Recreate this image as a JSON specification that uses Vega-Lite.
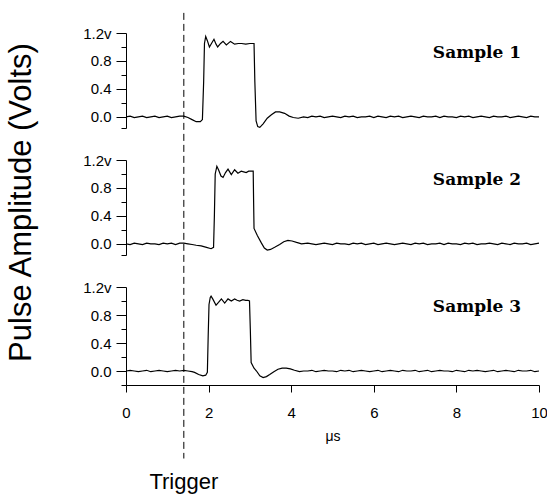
{
  "$schema": "https://vega.github.io/schema/vega-lite/v6.json",
  "background": "white",
  "padding": {"left": 5, "top": 12, "right": 0, "bottom": 5},
  "config": {
    "view": {"stroke": null},
    "axis": {"domainColor": "black", "tickColor": "black", "labelColor": "black", "titleColor": "black", "labelFont": "Liberation Sans", "titleFont": "Liberation Sans", "grid": false, "titleFontWeight": "normal", "domainWidth": 1, "tickWidth": 1}
  },
  "datasets": {
    "labels": [{"s": 1, "name": "Sample 1"}, {"s": 2, "name": "Sample 2"}, {"s": 3, "name": "Sample 3"}],
    "trig": [{"name": "Trigger", "t": 1.4}],
    "w": [
      {"s":1,"t":0.0,"v":0.0},{"s":1,"t":0.1,"v":0.01},{"s":1,"t":0.2,"v":-0.01},{"s":1,"t":0.3,"v":0.0},{"s":1,"t":0.4,"v":0.01},{"s":1,"t":0.5,"v":-0.01},{"s":1,"t":0.6,"v":0.0},{"s":1,"t":0.7,"v":0.01},{"s":1,"t":0.8,"v":-0.01},{"s":1,"t":0.9,"v":0.0},{"s":1,"t":1.0,"v":0.01},{"s":1,"t":1.1,"v":-0.01},{"s":1,"t":1.2,"v":0.0},{"s":1,"t":1.3,"v":0.01},{"s":1,"t":1.4,"v":0.01},{"s":1,"t":1.5,"v":-0.01},{"s":1,"t":1.6,"v":-0.04},{"s":1,"t":1.7,"v":-0.07},{"s":1,"t":1.8,"v":-0.07},{"s":1,"t":1.85,"v":-0.04},{"s":1,"t":1.88,"v":0.5},{"s":1,"t":1.9,"v":1.05},{"s":1,"t":1.93,"v":1.15},{"s":1,"t":1.97,"v":1.09},{"s":1,"t":2.02,"v":1.0},{"s":1,"t":2.08,"v":1.06},{"s":1,"t":2.13,"v":1.11},{"s":1,"t":2.18,"v":1.04},{"s":1,"t":2.22,"v":1.0},{"s":1,"t":2.29,"v":1.05},{"s":1,"t":2.35,"v":1.08},{"s":1,"t":2.43,"v":1.03},{"s":1,"t":2.53,"v":1.08},{"s":1,"t":2.63,"v":1.04},{"s":1,"t":2.72,"v":1.05},{"s":1,"t":2.8,"v":1.05},{"s":1,"t":2.9,"v":1.04},{"s":1,"t":3.0,"v":1.05},{"s":1,"t":3.1,"v":1.05},{"s":1,"t":3.12,"v":0.5},{"s":1,"t":3.15,"v":-0.06},{"s":1,"t":3.19,"v":-0.14},{"s":1,"t":3.24,"v":-0.15},{"s":1,"t":3.32,"v":-0.1},{"s":1,"t":3.42,"v":-0.02},{"s":1,"t":3.52,"v":0.03},{"s":1,"t":3.62,"v":0.07},{"s":1,"t":3.72,"v":0.07},{"s":1,"t":3.84,"v":0.05},{"s":1,"t":3.95,"v":0.01},{"s":1,"t":4.05,"v":-0.01},{"s":1,"t":4.17,"v":-0.02},{"s":1,"t":4.3,"v":0.0},
      {"s":1,"t":4.4,"v":-0.01},{"s":1,"t":4.5,"v":0.01},{"s":1,"t":4.6,"v":0.0},{"s":1,"t":4.7,"v":0.01},{"s":1,"t":4.8,"v":-0.01},{"s":1,"t":4.9,"v":0.0},{"s":1,"t":5.0,"v":0.01},{"s":1,"t":5.1,"v":0.0},{"s":1,"t":5.2,"v":-0.01},{"s":1,"t":5.3,"v":0.01},{"s":1,"t":5.4,"v":0.0},{"s":1,"t":5.5,"v":0.01},{"s":1,"t":5.6,"v":-0.01},{"s":1,"t":5.7,"v":0.0},{"s":1,"t":5.8,"v":0.0},{"s":1,"t":5.9,"v":0.01},{"s":1,"t":6.0,"v":-0.01},{"s":1,"t":6.1,"v":0.01},{"s":1,"t":6.2,"v":0.0},{"s":1,"t":6.3,"v":-0.01},{"s":1,"t":6.4,"v":0.01},{"s":1,"t":6.5,"v":0.0},{"s":1,"t":6.6,"v":0.01},{"s":1,"t":6.7,"v":-0.01},{"s":1,"t":6.8,"v":0.0},{"s":1,"t":6.9,"v":0.01},{"s":1,"t":7.0,"v":0.0},{"s":1,"t":7.1,"v":-0.01},{"s":1,"t":7.2,"v":0.01},{"s":1,"t":7.3,"v":0.0},{"s":1,"t":7.4,"v":0.0},{"s":1,"t":7.5,"v":0.01},{"s":1,"t":7.6,"v":-0.01},{"s":1,"t":7.7,"v":0.01},{"s":1,"t":7.8,"v":0.0},{"s":1,"t":7.9,"v":0.0},{"s":1,"t":8.0,"v":-0.01},{"s":1,"t":8.1,"v":0.01},{"s":1,"t":8.2,"v":0.0},{"s":1,"t":8.3,"v":0.01},{"s":1,"t":8.4,"v":-0.01},{"s":1,"t":8.5,"v":0.0},{"s":1,"t":8.6,"v":0.01},{"s":1,"t":8.7,"v":0.0},{"s":1,"t":8.8,"v":-0.01},{"s":1,"t":8.9,"v":0.01},{"s":1,"t":9.0,"v":0.0},{"s":1,"t":9.1,"v":0.0},{"s":1,"t":9.2,"v":0.01},{"s":1,"t":9.3,"v":-0.01},{"s":1,"t":9.4,"v":0.0},{"s":1,"t":9.5,"v":0.01},{"s":1,"t":9.6,"v":0.0},{"s":1,"t":9.7,"v":-0.01},{"s":1,"t":9.8,"v":0.01},{"s":1,"t":9.9,"v":0.0},{"s":1,"t":10.0,"v":0.0},
      {"s":2,"t":0.0,"v":0.0},{"s":2,"t":0.1,"v":-0.01},{"s":2,"t":0.2,"v":0.01},{"s":2,"t":0.3,"v":0.0},{"s":2,"t":0.4,"v":-0.01},{"s":2,"t":0.5,"v":0.01},{"s":2,"t":0.6,"v":0.0},{"s":2,"t":0.7,"v":0.0},{"s":2,"t":0.8,"v":-0.01},{"s":2,"t":0.9,"v":0.01},{"s":2,"t":1.0,"v":0.0},{"s":2,"t":1.1,"v":0.01},{"s":2,"t":1.2,"v":-0.01},{"s":2,"t":1.3,"v":0.01},{"s":2,"t":1.4,"v":0.01},{"s":2,"t":1.5,"v":0.0},{"s":2,"t":1.6,"v":-0.01},{"s":2,"t":1.7,"v":-0.02},{"s":2,"t":1.82,"v":-0.03},{"s":2,"t":1.95,"v":-0.05},{"s":2,"t":2.06,"v":-0.07},{"s":2,"t":2.12,"v":-0.05},{"s":2,"t":2.14,"v":0.4},{"s":2,"t":2.16,"v":1.0},{"s":2,"t":2.2,"v":1.11},{"s":2,"t":2.24,"v":1.06},{"s":2,"t":2.3,"v":0.97},{"s":2,"t":2.35,"v":0.95},{"s":2,"t":2.41,"v":1.02},{"s":2,"t":2.47,"v":1.07},{"s":2,"t":2.55,"v":0.99},{"s":2,"t":2.63,"v":1.06},{"s":2,"t":2.71,"v":1.01},{"s":2,"t":2.79,"v":1.04},{"s":2,"t":2.85,"v":1.03},{"s":2,"t":2.91,"v":1.02},{"s":2,"t":2.97,"v":1.04},{"s":2,"t":3.03,"v":1.04},{"s":2,"t":3.08,"v":1.04},{"s":2,"t":3.09,"v":0.6},{"s":2,"t":3.1,"v":0.22},{"s":2,"t":3.18,"v":0.12},{"s":2,"t":3.28,"v":0.01},{"s":2,"t":3.35,"v":-0.06},{"s":2,"t":3.42,"v":-0.09},{"s":2,"t":3.5,"v":-0.08},{"s":2,"t":3.6,"v":-0.05},{"s":2,"t":3.72,"v":-0.01},{"s":2,"t":3.82,"v":0.03},{"s":2,"t":3.92,"v":0.05},{"s":2,"t":4.02,"v":0.04},{"s":2,"t":4.13,"v":0.02},{"s":2,"t":4.25,"v":0.0},
      {"s":2,"t":4.4,"v":0.01},{"s":2,"t":4.5,"v":0.0},{"s":2,"t":4.6,"v":-0.01},{"s":2,"t":4.7,"v":0.0},{"s":2,"t":4.8,"v":0.01},{"s":2,"t":4.9,"v":0.0},{"s":2,"t":5.0,"v":-0.01},{"s":2,"t":5.1,"v":0.01},{"s":2,"t":5.2,"v":0.0},{"s":2,"t":5.3,"v":0.0},{"s":2,"t":5.4,"v":-0.01},{"s":2,"t":5.5,"v":0.01},{"s":2,"t":5.6,"v":0.0},{"s":2,"t":5.7,"v":0.01},{"s":2,"t":5.8,"v":-0.01},{"s":2,"t":5.9,"v":0.0},{"s":2,"t":6.0,"v":0.01},{"s":2,"t":6.1,"v":-0.01},{"s":2,"t":6.2,"v":0.0},{"s":2,"t":6.3,"v":0.01},{"s":2,"t":6.4,"v":0.0},{"s":2,"t":6.5,"v":-0.01},{"s":2,"t":6.6,"v":0.0},{"s":2,"t":6.7,"v":0.01},{"s":2,"t":6.8,"v":0.0},{"s":2,"t":6.9,"v":-0.01},{"s":2,"t":7.0,"v":0.01},{"s":2,"t":7.1,"v":0.0},{"s":2,"t":7.2,"v":0.01},{"s":2,"t":7.3,"v":-0.01},{"s":2,"t":7.4,"v":0.0},{"s":2,"t":7.5,"v":0.0},{"s":2,"t":7.6,"v":0.01},{"s":2,"t":7.7,"v":-0.01},{"s":2,"t":7.8,"v":0.01},{"s":2,"t":7.9,"v":0.0},{"s":2,"t":8.0,"v":0.0},{"s":2,"t":8.1,"v":-0.01},{"s":2,"t":8.2,"v":0.01},{"s":2,"t":8.3,"v":0.0},{"s":2,"t":8.4,"v":0.01},{"s":2,"t":8.5,"v":-0.01},{"s":2,"t":8.6,"v":0.0},{"s":2,"t":8.7,"v":0.0},{"s":2,"t":8.8,"v":0.01},{"s":2,"t":8.9,"v":0.0},{"s":2,"t":9.0,"v":-0.01},{"s":2,"t":9.1,"v":0.01},{"s":2,"t":9.2,"v":0.0},{"s":2,"t":9.3,"v":-0.01},{"s":2,"t":9.4,"v":0.01},{"s":2,"t":9.5,"v":0.0},{"s":2,"t":9.6,"v":0.0},{"s":2,"t":9.7,"v":0.01},{"s":2,"t":9.8,"v":-0.01},{"s":2,"t":9.9,"v":0.0},{"s":2,"t":10.0,"v":0.01},
      {"s":3,"t":0.0,"v":0.0},{"s":3,"t":0.1,"v":0.01},{"s":3,"t":0.2,"v":0.0},{"s":3,"t":0.3,"v":-0.01},{"s":3,"t":0.4,"v":0.0},{"s":3,"t":0.5,"v":0.01},{"s":3,"t":0.6,"v":-0.01},{"s":3,"t":0.7,"v":0.0},{"s":3,"t":0.8,"v":0.01},{"s":3,"t":0.9,"v":0.0},{"s":3,"t":1.0,"v":-0.01},{"s":3,"t":1.1,"v":0.0},{"s":3,"t":1.2,"v":0.01},{"s":3,"t":1.3,"v":0.0},{"s":3,"t":1.4,"v":0.01},{"s":3,"t":1.5,"v":0.0},{"s":3,"t":1.6,"v":-0.01},{"s":3,"t":1.66,"v":-0.02},{"s":3,"t":1.76,"v":-0.05},{"s":3,"t":1.86,"v":-0.07},{"s":3,"t":1.93,"v":-0.06},{"s":3,"t":1.97,"v":-0.02},{"s":3,"t":1.99,"v":0.5},{"s":3,"t":2.01,"v":0.95},{"s":3,"t":2.04,"v":1.05},{"s":3,"t":2.06,"v":1.07},{"s":3,"t":2.1,"v":1.03},{"s":3,"t":2.18,"v":0.94},{"s":3,"t":2.24,"v":0.98},{"s":3,"t":2.31,"v":1.03},{"s":3,"t":2.39,"v":0.97},{"s":3,"t":2.47,"v":1.03},{"s":3,"t":2.55,"v":1.0},{"s":3,"t":2.63,"v":1.03},{"s":3,"t":2.69,"v":1.01},{"s":3,"t":2.75,"v":1.0},{"s":3,"t":2.83,"v":1.02},{"s":3,"t":2.9,"v":1.01},{"s":3,"t":2.95,"v":1.01},{"s":3,"t":2.99,"v":1.0},{"s":3,"t":3.01,"v":0.6},{"s":3,"t":3.03,"v":0.12},{"s":3,"t":3.1,"v":0.04},{"s":3,"t":3.16,"v":0.0},{"s":3,"t":3.24,"v":-0.07},{"s":3,"t":3.32,"v":-0.095},{"s":3,"t":3.4,"v":-0.08},{"s":3,"t":3.48,"v":-0.05},{"s":3,"t":3.58,"v":-0.01},{"s":3,"t":3.68,"v":0.025},{"s":3,"t":3.78,"v":0.04},{"s":3,"t":3.88,"v":0.04},{"s":3,"t":3.98,"v":0.03},{"s":3,"t":4.08,"v":0.01},{"s":3,"t":4.2,"v":-0.01},{"s":3,"t":4.3,"v":0.0},
      {"s":3,"t":4.4,"v":0.0},{"s":3,"t":4.5,"v":0.01},{"s":3,"t":4.6,"v":-0.01},{"s":3,"t":4.7,"v":0.0},{"s":3,"t":4.8,"v":0.01},{"s":3,"t":4.9,"v":0.0},{"s":3,"t":5.0,"v":0.0},{"s":3,"t":5.1,"v":-0.01},{"s":3,"t":5.2,"v":0.01},{"s":3,"t":5.3,"v":0.0},{"s":3,"t":5.4,"v":0.01},{"s":3,"t":5.5,"v":-0.01},{"s":3,"t":5.6,"v":0.0},{"s":3,"t":5.7,"v":0.01},{"s":3,"t":5.8,"v":0.0},{"s":3,"t":5.9,"v":-0.01},{"s":3,"t":6.0,"v":0.0},{"s":3,"t":6.1,"v":0.01},{"s":3,"t":6.2,"v":-0.01},{"s":3,"t":6.3,"v":0.0},{"s":3,"t":6.4,"v":0.01},{"s":3,"t":6.5,"v":0.0},{"s":3,"t":6.6,"v":-0.01},{"s":3,"t":6.7,"v":0.01},{"s":3,"t":6.8,"v":0.0},{"s":3,"t":6.9,"v":0.0},{"s":3,"t":7.0,"v":0.01},{"s":3,"t":7.1,"v":-0.01},{"s":3,"t":7.2,"v":0.0},{"s":3,"t":7.3,"v":0.01},{"s":3,"t":7.4,"v":-0.01},{"s":3,"t":7.5,"v":0.0},{"s":3,"t":7.6,"v":0.01},{"s":3,"t":7.7,"v":0.0},{"s":3,"t":7.8,"v":0.0},{"s":3,"t":7.9,"v":-0.01},{"s":3,"t":8.0,"v":0.01},{"s":3,"t":8.1,"v":0.0},{"s":3,"t":8.2,"v":-0.01},{"s":3,"t":8.3,"v":0.01},{"s":3,"t":8.4,"v":0.0},{"s":3,"t":8.5,"v":0.01},{"s":3,"t":8.6,"v":0.0},{"s":3,"t":8.7,"v":-0.01},{"s":3,"t":8.8,"v":0.0},{"s":3,"t":8.9,"v":0.01},{"s":3,"t":9.0,"v":-0.01},{"s":3,"t":9.1,"v":0.0},{"s":3,"t":9.2,"v":0.01},{"s":3,"t":9.3,"v":0.0},{"s":3,"t":9.4,"v":-0.01},{"s":3,"t":9.5,"v":0.01},{"s":3,"t":9.6,"v":0.0},{"s":3,"t":9.7,"v":0.0},{"s":3,"t":9.8,"v":0.01},{"s":3,"t":9.9,"v":-0.01},{"s":3,"t":10.0,"v":0.0}
    ]
  },
  "bounds": "flush",
  "spacing": 32,
  "vconcat": [
    {
      "width": 413, "height": 95,
      "layer": [
        {
          "data": {"name": "w"},
          "transform": [{"filter": "datum.s == 1"}],
          "mark": {"type": "line", "color": "black", "strokeWidth": 1.2},
          "encoding": {
            "x": {"field": "t", "type": "quantitative", "scale": {"domain": [0, 10], "nice": false}, "axis": null},
            "y": {"field": "v", "type": "quantitative", "scale": {"domain": [-0.16, 1.2], "nice": false, "zero": false},
                  "axis": {"orient": "left", "values": [0, 0.4, 0.8, 1.2], "labelExpr": "datum.value == 1.2 ? '1.2v' : format(datum.value, '.1f')", "tickSize": 10, "labelPadding": 5, "labelFontSize": 15, "title": null}}
          }
        },
        {
          "data": {"name": "labels"},
          "transform": [{"filter": "datum.s == 1"}],
          "mark": {"type": "text", "font": "DejaVu Serif", "fontWeight": "bold", "fontSize": 17, "align": "left", "baseline": "middle", "color": "black"},
          "encoding": {
            "x": {"datum": 7.43, "type": "quantitative"},
            "y": {"datum": 0.92, "type": "quantitative", "scale": {"domain": [-0.16, 1.2], "nice": false, "zero": false},
                  "axis": {"orient": "left", "values": [-0.16, 0.2, 0.6, 1.0], "labels": false, "domain": false, "tickSize": 5, "title": null}},
            "text": {"field": "name"}
          }
        }
      ],
      "resolve": {"axis": {"y": "independent"}}
    },
    {
      "width": 413, "height": 95,
      "layer": [
        {
          "data": {"name": "w"},
          "transform": [{"filter": "datum.s == 2"}],
          "mark": {"type": "line", "color": "black", "strokeWidth": 1.2},
          "encoding": {
            "x": {"field": "t", "type": "quantitative", "scale": {"domain": [0, 10], "nice": false}, "axis": null},
            "y": {"field": "v", "type": "quantitative", "scale": {"domain": [-0.16, 1.2], "nice": false, "zero": false},
                  "axis": {"orient": "left", "values": [0, 0.4, 0.8, 1.2], "labelExpr": "datum.value == 1.2 ? '1.2v' : format(datum.value, '.1f')", "tickSize": 10, "labelPadding": 5, "labelFontSize": 15, "title": "Pulse Amplitude (Volts)", "titleFontSize": 31, "titlePadding": 45, "titleY": 42}}
          }
        },
        {
          "data": {"name": "labels"},
          "transform": [{"filter": "datum.s == 2"}],
          "mark": {"type": "text", "font": "DejaVu Serif", "fontWeight": "bold", "fontSize": 17, "align": "left", "baseline": "middle", "color": "black"},
          "encoding": {
            "x": {"datum": 7.43, "type": "quantitative"},
            "y": {"datum": 0.92, "type": "quantitative", "scale": {"domain": [-0.16, 1.2], "nice": false, "zero": false},
                  "axis": {"orient": "left", "values": [-0.16, 0.2, 0.6, 1.0], "labels": false, "domain": false, "tickSize": 5, "title": null}},
            "text": {"field": "name"}
          }
        }
      ],
      "resolve": {"axis": {"y": "independent"}}
    },
    {
      "width": 413, "height": 98,
      "layer": [
        {
          "data": {"name": "w"},
          "transform": [{"filter": "datum.s == 3"}],
          "mark": {"type": "line", "color": "black", "strokeWidth": 1.2},
          "encoding": {
            "x": {"field": "t", "type": "quantitative", "scale": {"domain": [0, 10], "nice": false},
                  "axis": {"values": [0, 2, 4, 6, 8, 10], "tickSize": 7, "labelFontSize": 15, "labelPadding": 13, "labelFlush": false, "title": "μs", "titleFontSize": 14, "titlePadding": 9}},
            "y": {"field": "v", "type": "quantitative", "scale": {"domain": [-0.2, 1.2], "nice": false, "zero": false},
                  "axis": {"orient": "left", "values": [0, 0.4, 0.8, 1.2], "labelExpr": "datum.value == 1.2 ? '1.2v' : format(datum.value, '.1f')", "tickSize": 10, "labelPadding": 5, "labelFontSize": 15, "title": null}}
          }
        },
        {
          "data": {"name": "labels"},
          "transform": [{"filter": "datum.s == 3"}],
          "mark": {"type": "text", "font": "DejaVu Serif", "fontWeight": "bold", "fontSize": 17, "align": "left", "baseline": "middle", "color": "black"},
          "encoding": {
            "x": {"datum": 7.43, "type": "quantitative"},
            "y": {"datum": 0.92, "type": "quantitative", "scale": {"domain": [-0.2, 1.2], "nice": false, "zero": false},
                  "axis": {"orient": "left", "values": [-0.2, 0.2, 0.6, 1.0], "labels": false, "domain": false, "tickSize": 5, "title": null}},
            "text": {"field": "name"}
          }
        },
        {
          "data": {"name": "trig"},
          "mark": {"type": "rule", "color": "black", "strokeWidth": 1, "strokeDash": [7, 4]},
          "encoding": {
            "x": {"field": "t", "type": "quantitative"},
            "y": {"datum": 5.116, "type": "quantitative", "axis": null},
            "y2": {"datum": -1.25}
          }
        },
        {
          "data": {"name": "trig"},
          "mark": {"type": "text", "font": "Liberation Sans", "fontSize": 22, "align": "center", "baseline": "middle", "color": "black"},
          "encoding": {
            "x": {"field": "t", "type": "quantitative"},
            "y": {"datum": -1.58, "type": "quantitative", "axis": null},
            "text": {"field": "name"}
          }
        }
      ],
      "resolve": {"axis": {"y": "independent"}}
    }
  ]
}
